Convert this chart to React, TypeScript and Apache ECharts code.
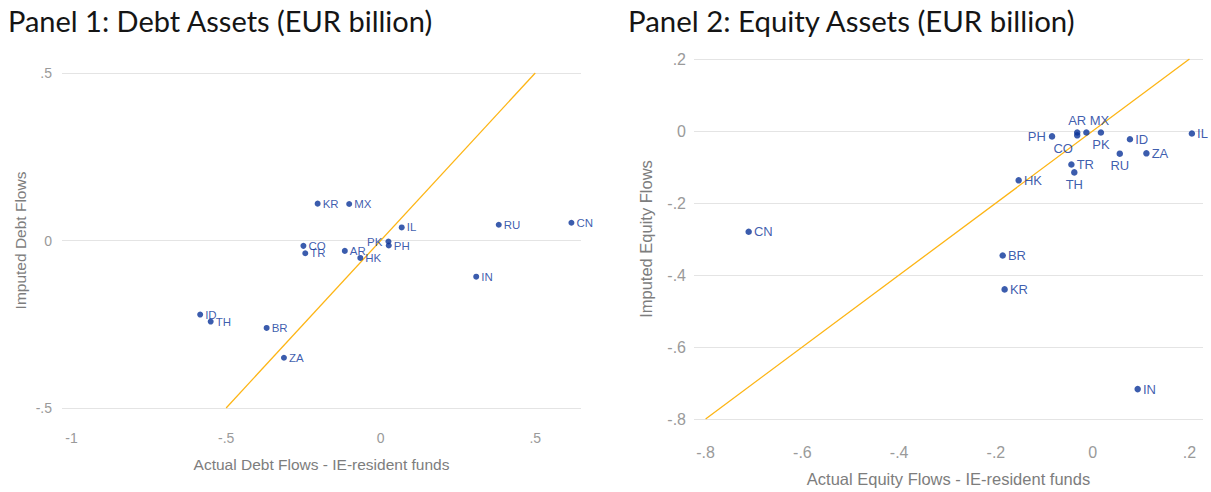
import React, { useEffect, useRef } from "react";
import * as echarts from "echarts";

// Panel 1: Debt
const debtCountries = ["KR", "MX", "IL", "RU", "CN", "CO", "TR", "AR", "HK", "PK", "PH", "IN", "ID", "TH", "BR", "ZA"];
const debtActual = [-0.204, -0.102, 0.068, 0.382, 0.617, -0.25, -0.244, -0.116, -0.066, 0.025, 0.026, 0.309, -0.584, -0.55, -0.369, -0.313];
const debtImputed = [0.11, 0.109, 0.039, 0.047, 0.053, -0.016, -0.038, -0.031, -0.052, -0.003, -0.015, -0.108, -0.221, -0.242, -0.261, -0.35];
const debtLine = [-0.5, 0.5];
const debtXTicks = [-1, -0.5, 0, 0.5];

// Panel 2: Equity
const eqCountries = ["AR", "CO", "MX", "PK", "PH", "ID", "ZA", "RU", "IL", "TR", "TH", "HK", "CN", "BR", "KR", "IN"];
const eqActual = [-0.032, -0.032, -0.013, 0.017, -0.084, 0.077, 0.111, 0.056, 0.205, -0.044, -0.038, -0.153, -0.711, -0.186, -0.182, 0.093];
const eqImputed = [-0.004, -0.012, -0.004, -0.004, -0.015, -0.023, -0.062, -0.063, -0.007, -0.093, -0.115, -0.137, -0.28, -0.346, -0.44, -0.717];
const eqLine = [-0.8, 0.2];
const eqXTicks = [-0.8, -0.6, -0.4, -0.2, 0, 0.2];

// label placement (clock-like positions)
const debtLabelPos: Record<string, string> = { PK: "left" };
const eqLabelPos: Record<string, string> = { PH: "left", AR: "top", MX: "topright", CO: "bottomleft", PK: "bottom", RU: "bottom", TH: "bottom" };

const BLUE = "#0a3399";
const LINE = "#FDB515";
const GRID = "#e4e4e4";
const TICK = "#9a9a9a";
const NAME = "#7d7d7d";
const SANS = "Liberation Sans, Arial, sans-serif";

function fmt(v: number) {
  if (Math.abs(v) < 1e-9) return "0";
  const s = Number(v.toFixed(1)).toString();
  return s.replace("0.", ".");
}

function labelCfg(pos: string | undefined, size: number) {
  const base: any = { show: true, color: BLUE, fontSize: size, fontFamily: SANS, distance: 3 };
  switch (pos) {
    case "left":
      return { ...base, position: "left" };
    case "top":
      return { ...base, position: "top", distance: 2 };
    case "topright":
      return { ...base, position: "top", distance: 2, offset: [13, 0] };
    case "bottom":
      return { ...base, position: "bottom", distance: 2 };
    case "bottomleft":
      return { ...base, position: "bottom", distance: 3, offset: [-14, 0] };
    default:
      return { ...base, position: "right", distance: 2 };
  }
}

function points(names: string[], xs: number[], ys: number[], pos: Record<string, string>, size: number) {
  return names.map((n, i) => ({ name: n, value: [xs[i], ys[i]], label: { ...labelCfg(pos[n], size), formatter: n } }));
}

export default function App() {
  const ref = useRef<HTMLDivElement>(null);
  useEffect(() => {
    document.body.style.margin = "0";
    const chart = echarts.init(ref.current!, null, { renderer: "svg" });
    const tick1 = { color: TICK, fontSize: 14, fontFamily: SANS, formatter: (v: number) => fmt(v) };
    const tick2 = { color: TICK, fontSize: 16, fontFamily: SANS, formatter: (v: number) => fmt(v) };
    const name1 = { color: NAME, fontSize: 15.5, fontFamily: SANS };
    const name2 = { color: NAME, fontSize: 16.5, fontFamily: SANS };
    chart.setOption({
      animation: false,
      title: [
        { text: "Panel 1: Debt Assets (EUR billion)", left: 3, top: 1, textStyle: { fontFamily: "Lato", fontSize: 29, fontWeight: "normal", color: "#151515" } },
        { text: "Panel 2: Equity Assets (EUR billion)", left: 623, top: 1, textStyle: { fontFamily: "Lato", fontSize: 29.4, fontWeight: "normal", color: "#151515" } },
      ],
      grid: [
        { left: 62, top: 73, width: 519, height: 335 },
        { left: 694, top: 59, width: 509, height: 365 },
      ],
      xAxis: [
        {
          gridIndex: 0, type: "value", min: -1.031, max: 0.648,
          axisLine: { show: false }, axisTick: { show: false }, splitLine: { show: false },
          axisLabel: { ...tick1, margin: 23, customValues: debtXTicks },
          name: "Actual Debt Flows - IE-resident funds", nameLocation: "middle", nameGap: 48, nameTextStyle: name1,
        },
        {
          gridIndex: 1, type: "value", min: -0.824, max: 0.228,
          axisLine: { show: false }, axisTick: { show: false }, splitLine: { show: false },
          axisLabel: { ...tick2, margin: 25, customValues: eqXTicks },
          name: "Actual Equity Flows - IE-resident funds", nameLocation: "middle", nameGap: 51, nameTextStyle: name2,
        },
      ],
      yAxis: [
        {
          gridIndex: 0, type: "value", min: -0.5, max: 0.5, interval: 0.5,
          axisLine: { show: false }, axisTick: { show: false },
          splitLine: { show: true, lineStyle: { color: GRID, width: 1 } },
          axisLabel: { ...tick1, margin: 10 },
          name: "Imputed Debt Flows", nameLocation: "middle", nameGap: 34, nameTextStyle: name1,
        },
        {
          gridIndex: 1, type: "value", min: -0.8, max: 0.2, interval: 0.2,
          axisLine: { show: false }, axisTick: { show: false },
          splitLine: { show: true, lineStyle: { color: GRID, width: 1 } },
          axisLabel: { ...tick2, margin: 8 },
          name: "Imputed Equity Flows", nameLocation: "middle", nameGap: 40, nameTextStyle: name2,
        },
      ],
      series: [
        {
          type: "line", xAxisIndex: 0, yAxisIndex: 0, showSymbol: false, silent: true,
          data: [[debtLine[0], debtLine[0]], [debtLine[1], debtLine[1]]],
          lineStyle: { color: LINE, width: 1.3 }, z: 1,
        },
        {
          type: "scatter", xAxisIndex: 0, yAxisIndex: 0, symbolSize: 6,
          itemStyle: { color: BLUE },
          data: points(debtCountries, debtActual, debtImputed, debtLabelPos, 11.5), z: 2,
        },
        {
          type: "line", xAxisIndex: 1, yAxisIndex: 1, showSymbol: false, silent: true,
          data: [[eqLine[0], eqLine[0]], [eqLine[1], eqLine[1]]],
          lineStyle: { color: LINE, width: 1.3 }, z: 1,
        },
        {
          type: "scatter", xAxisIndex: 1, yAxisIndex: 1, symbolSize: 6.5,
          itemStyle: { color: BLUE },
          data: points(eqCountries, eqActual, eqImputed, eqLabelPos, 13), z: 2,
        },
      ],
    });
    return () => chart.dispose();
  }, []);
  return <div ref={ref} style={{ width: 1211, height: 492 }} />;
}
